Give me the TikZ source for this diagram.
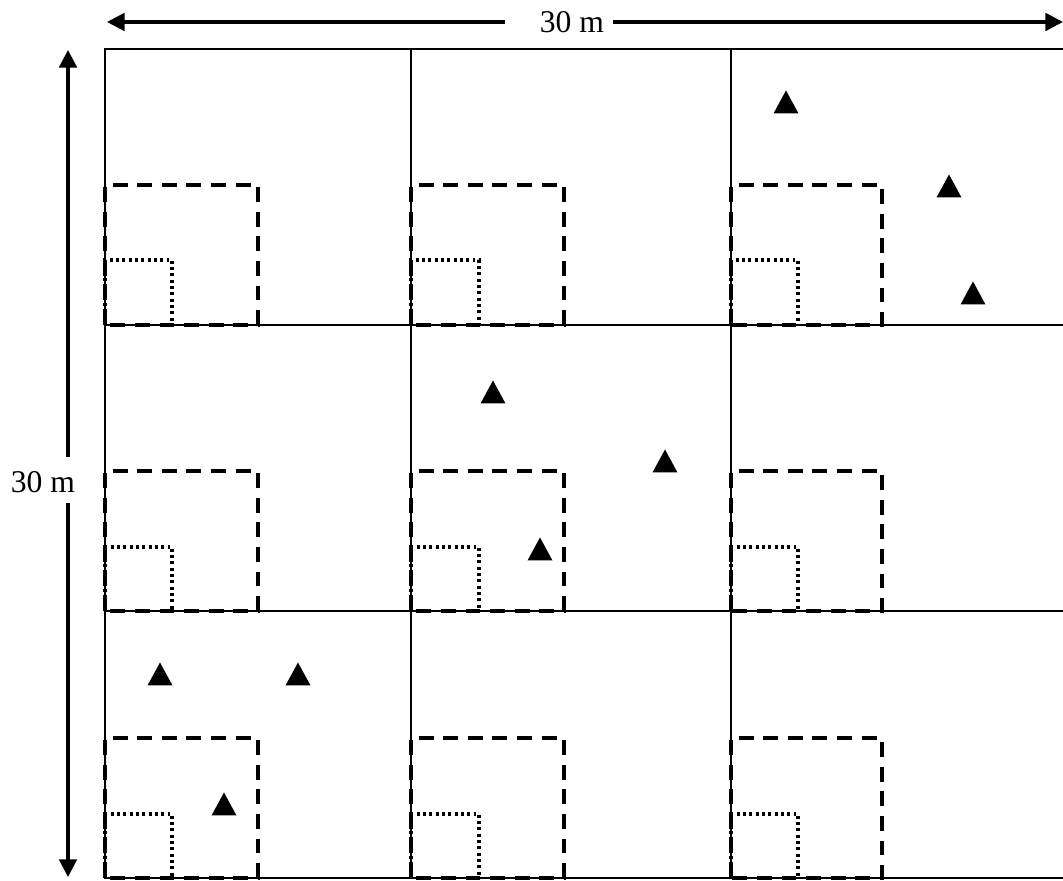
\documentclass[tikz,border=0pt]{standalone}
\usepackage{fontspec}
\setmainfont{Liberation Serif}
\usetikzlibrary{arrows.meta,positioning}

\tikzset{
  gridline/.style={black, line width=1.1pt},
  plotline/.style={black, line width=2.6pt, dash pattern=on 8.5pt off 5.5pt},
  quadline/.style={black, line width=2.2pt, dash pattern=on 1.7pt off 1.9pt},
  dimline/.style={black, line width=1.8pt, -{Triangle[length=10pt,width=10pt]}},
  dimlabel/.style={inner sep=0pt, font=\fontsize{18}{21}\selectfont},
  tree/.style={fill=black}
}
\newcommand{\treemark}[1]{\fill[tree] #1 ++(-12.5,11.5) -- ++(25,0) -- ++(-12.5,-23) -- cycle;}

\begin{document}
\begin{tikzpicture}[x=0.02cm, y=-0.02cm]
\useasboundingbox (0,0) rectangle (1063,881);

%Dimension along the top
\node[dimlabel] (toplabel) at (572,22) {30 m};
\coordinate (topleft) at (505,22);
\coordinate (topright) at (613,22);
\draw[dimline] (topleft) -- (107,22);
\draw[dimline] (topright) -- (1063,22);

%Dimension along the side
\node[dimlabel] (sidelabel) at (43,482) {30 m};
\coordinate (sidetop) at (68,457);
\coordinate (sidebottom) at (68,503);
\draw[dimline] (sidetop) -- (68,50);
\draw[dimline] (sidebottom) -- (68,877);

%Main plot, 3 x 3 cells
\draw[gridline] (105,49) rectangle (1075,878);
\draw[gridline] (411,49) -- (411,878);
\draw[gridline] (731,49) -- (731,878);
\draw[gridline] (105,325) -- (1075,325);
\draw[gridline] (105,611) -- (1075,611);

%Subplots, row 1
\draw[plotline] (105,325) -- (105,185) -- (258,185) -- (258,325) -- cycle;
\draw[quadline] (105,325) -- (105,260) -- (172,260) -- (172,325);
\draw[plotline] (411,325) -- (411,185) -- (564,185) -- (564,325) -- cycle;
\draw[quadline] (411,325) -- (411,260) -- (479,260) -- (479,325);
\draw[plotline] (731,325) -- (731,185) -- (882,185) -- (882,325) -- cycle;
\draw[quadline] (731,325) -- (731,260) -- (798,260) -- (798,325);

%Subplots, row 2
\draw[plotline] (105,611) -- (105,471) -- (258,471) -- (258,611) -- cycle;
\draw[quadline] (105,611) -- (105,547) -- (172,547) -- (172,611);
\draw[plotline] (411,611) -- (411,471) -- (564,471) -- (564,611) -- cycle;
\draw[quadline] (411,611) -- (411,547) -- (479,547) -- (479,611);
\draw[plotline] (731,611) -- (731,471) -- (882,471) -- (882,611) -- cycle;
\draw[quadline] (731,611) -- (731,547) -- (798,547) -- (798,611);

%Subplots, row 3
\draw[plotline] (105,878) -- (105,738) -- (258,738) -- (258,878) -- cycle;
\draw[quadline] (105,878) -- (105,814) -- (172,814) -- (172,878);
\draw[plotline] (411,878) -- (411,738) -- (564,738) -- (564,878) -- cycle;
\draw[quadline] (411,878) -- (411,814) -- (479,814) -- (479,878);
\draw[plotline] (731,878) -- (731,738) -- (882,738) -- (882,878) -- cycle;
\draw[quadline] (731,878) -- (731,814) -- (798,814) -- (798,878);

%Trees
\treemark{(786,102)}
\treemark{(949,186)}
\treemark{(973,293)}
\treemark{(493,392)}
\treemark{(665,461)}
\treemark{(540,549)}
\treemark{(160,674)}
\treemark{(298,674)}
\treemark{(224,804)}
\end{tikzpicture}
\end{document}
